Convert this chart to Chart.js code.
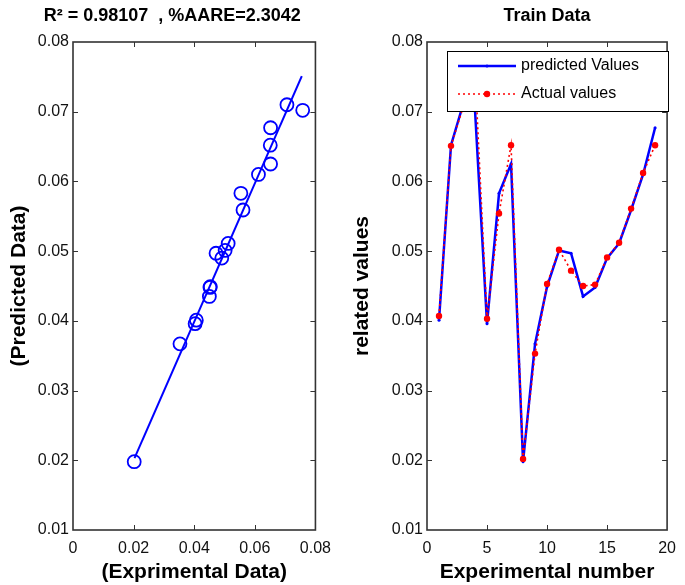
<!DOCTYPE html>
<html>
<head>
<meta charset="utf-8">
<script src="https://cdn.jsdelivr.net/npm/chart.js@4.4.0/dist/chart.umd.min.js"></script>
<style>
  html, body { margin: 0; padding: 0; background: #fff; }
  #wrap { position: relative; width: 685px; height: 585px; }
  #scatterBox { position: absolute; left: 0; top: 0; width: 340px; height: 585px; }
  #lineBox { position: absolute; left: 340px; top: 0; width: 345px; height: 585px; }
</style>
</head>
<body>
<div id="wrap">
  <div id="scatterBox"><canvas id="scatterChart"></canvas></div>
  <div id="lineBox"><canvas id="lineChart"></canvas></div>
</div>
<script>
// Experiment index (train data)
const expNumber = [1, 2, 3, 4, 5, 6, 7, 8, 9, 10, 11, 12, 13, 14, 15, 16, 17, 18, 19];

// Measured values
const actualValues = [0.0407, 0.0651, 0.0706, 0.0758, 0.0403, 0.0554, 0.0652, 0.0202, 0.0353,
  0.0453, 0.0502, 0.0472, 0.0450, 0.0452, 0.0491, 0.0512, 0.0561, 0.0612, 0.0652];

// Model output
const predictedValues = [0.0401, 0.0652, 0.0710, 0.0702, 0.0396, 0.0583, 0.0625, 0.0198, 0.0367,
  0.0449, 0.0501, 0.0497, 0.0435, 0.0448, 0.0490, 0.0511, 0.0559, 0.0610, 0.0677];

// Fitted regression line end points
const fitX = [0.0203, 0.0755];
const fitY = [0.0203, 0.0751];

// Axis ticks
const yTicks = [0.01, 0.02, 0.03, 0.04, 0.05, 0.06, 0.07, 0.08];
const scatterXTicks = [0, 0.02, 0.04, 0.06, 0.08];
const lineXTicks = [0, 5, 10, 15, 20];

const leftTitle = "R\u00B2 = 0.98107  , %AARE=2.3042";
const rightTitle = "Train Data";

Chart.defaults.font.family = "'Liberation Sans', Arial, sans-serif";
Chart.defaults.color = "#000";

const BLUE = "#0000ff";
const RED = "#ff0000";

function fmt(v) {
  if (Math.abs(v) < 1e-9) return "0";
  if (Math.abs(v) >= 1) return String(Math.round(v));
  return v.toFixed(2);
}

// MATLAB-like box, inward ticks and the title above the axes
const matlabBox = {
  id: "matlabBox",
  afterDatasetsDraw(chart, args, opts) {
    const ctx = chart.ctx;
    const a = chart.chartArea;
    const xs = chart.scales.x;
    const ys = chart.scales.y;
    const len = 5;
    ctx.save();
    ctx.strokeStyle = "#333";
    ctx.lineWidth = 1;
    ctx.beginPath();
    xs.ticks.forEach((t) => {
      const px = Math.round(xs.getPixelForValue(t.value)) + 0.5;
      if (px <= a.left + 1 || px >= a.right - 1) return;
      ctx.moveTo(px, a.bottom); ctx.lineTo(px, a.bottom - len);
      ctx.moveTo(px, a.top); ctx.lineTo(px, a.top + len);
    });
    ys.ticks.forEach((t) => {
      const py = Math.round(ys.getPixelForValue(t.value)) + 0.5;
      if (py <= a.top + 1 || py >= a.bottom - 1) return;
      ctx.moveTo(a.left, py); ctx.lineTo(a.left + len, py);
      ctx.moveTo(a.right, py); ctx.lineTo(a.right - len, py);
    });
    ctx.stroke();
    ctx.lineWidth = 1.6;
    ctx.strokeRect(a.left, a.top, a.right - a.left, a.bottom - a.top);

    ctx.fillStyle = "#000";
    ctx.font = "bold 18px 'Liberation Sans', Arial, sans-serif";
    ctx.textAlign = "center";
    ctx.textBaseline = "middle";
    ctx.fillText(opts.title, (a.left + a.right) / 2 + (opts.shift || 0), 16);
    ctx.restore();
  }
};

// Legend box drawn inside the plot area, like MATLAB
const insideLegend = {
  id: "insideLegend",
  afterDraw(chart) {
    const ctx = chart.ctx;
    const a = chart.chartArea;
    const x0 = a.left + 20, y0 = a.top + 9, w = 221, h = 60;
    ctx.save();
    ctx.fillStyle = "#fff";
    ctx.fillRect(x0, y0, w, h);
    ctx.strokeStyle = "#000";
    ctx.lineWidth = 1;
    ctx.strokeRect(x0 + 0.5, y0 + 0.5, w, h);

    const items = [chart.data.datasets[1], chart.data.datasets[0]];
    items.forEach((ds, i) => {
      const ly = y0 + 15 + i * 28;
      ctx.strokeStyle = ds.borderColor;
      ctx.lineWidth = ds.borderWidth;
      ctx.setLineDash(ds.borderDash || []);
      ctx.beginPath();
      ctx.moveTo(x0 + 11, ly);
      ctx.lineTo(x0 + 69, ly);
      ctx.stroke();
      ctx.setLineDash([]);
      ctx.fillStyle = ds.pointBackgroundColor;
      ctx.beginPath();
      ctx.arc(x0 + 40, ly, ds.pointRadius, 0, Math.PI * 2);
      ctx.fill();
      ctx.fillStyle = "#000";
      ctx.font = "16px 'Liberation Sans', Arial, sans-serif";
      ctx.textAlign = "left";
      ctx.textBaseline = "middle";
      ctx.fillText(ds.label, x0 + 74, ly);
    });
    ctx.restore();
  }
};

function yScale(width, titlePad, titleText) {
  return {
    min: 0.01,
    max: 0.08,
    afterBuildTicks: (s) => { s.ticks = yTicks.map((v) => ({ value: v })); },
    afterFit: (s) => { s.width = width; },
    grid: { display: false, drawTicks: false },
    border: { display: false },
    ticks: { padding: 4, font: { size: 16 }, color: "#111", callback: (v) => fmt(v) },
    title: { display: true, text: titleText, font: { size: 21, weight: "bold" }, padding: { top: titlePad, bottom: 0 } }
  };
}

function xScale(min, max, tickList, titleText) {
  return {
    type: "linear",
    min: min,
    max: max,
    afterBuildTicks: (s) => { s.ticks = tickList.map((v) => ({ value: v })); },
    afterFit: (s) => { s.height = 55; },
    grid: { display: false, drawTicks: false },
    border: { display: false },
    ticks: { padding: 9, font: { size: 16 }, color: "#111", maxRotation: 0, callback: (v) => fmt(v) },
    title: { display: true, text: titleText, font: { size: 21, weight: "bold" }, padding: { top: 0, bottom: 0 } }
  };
}

// Left: predicted vs experimental
new Chart(document.getElementById("scatterChart"), {
  type: "scatter",
  data: {
    datasets: [
      {
        label: "data",
        data: actualValues.map((v, i) => ({ x: v, y: predictedValues[i] })),
        pointStyle: "circle",
        pointRadius: 6.5,
        borderColor: BLUE,
        backgroundColor: "rgba(0,0,0,0)",
        borderWidth: 1.8
      },
      {
        label: "fit",
        data: fitX.map((v, i) => ({ x: v, y: fitY[i] })),
        showLine: true,
        pointRadius: 0,
        borderColor: BLUE,
        borderWidth: 2
      }
    ]
  },
  options: {
    responsive: true,
    maintainAspectRatio: false,
    animation: false,
    layout: { padding: { left: 0, right: 17, top: 42, bottom: 0 } },
    scales: {
      x: xScale(0, 0.08, scatterXTicks, "(Exprimental Data)"),
      y: yScale(73, 7, "(Predicted Data)")
    },
    plugins: {
      legend: { display: false },
      tooltip: { enabled: false },
      matlabBox: { title: leftTitle, shift: -22 }
    }
  },
  plugins: [matlabBox]
});

// Right: actual and predicted by experiment number
new Chart(document.getElementById("lineChart"), {
  type: "line",
  data: {
    datasets: [
      {
        label: "Actual values",
        data: expNumber.map((n, i) => ({ x: n, y: actualValues[i] })),
        borderColor: RED,
        borderWidth: 1.6,
        borderDash: [2, 3],
        pointRadius: 3.2,
        pointBackgroundColor: RED,
        pointBorderWidth: 0,
        tension: 0
      },
      {
        label: "predicted Values",
        data: expNumber.map((n, i) => ({ x: n, y: predictedValues[i] })),
        borderColor: BLUE,
        borderWidth: 2.5,
        pointRadius: 1.5,
        pointBackgroundColor: BLUE,
        pointBorderWidth: 0,
        tension: 0
      }
    ]
  },
  options: {
    responsive: true,
    maintainAspectRatio: false,
    animation: false,
    layout: { padding: { left: 0, right: 8, top: 42, bottom: 0 } },
    scales: {
      x: xScale(0, 20, lineXTicks, "Experimental number"),
      y: yScale(87, 10, "related values")
    },
    plugins: {
      legend: { display: false },
      tooltip: { enabled: false },
      matlabBox: { title: rightTitle, shift: 0 }
    }
  },
  plugins: [matlabBox, insideLegend]
});
</script>
</body>
</html>
